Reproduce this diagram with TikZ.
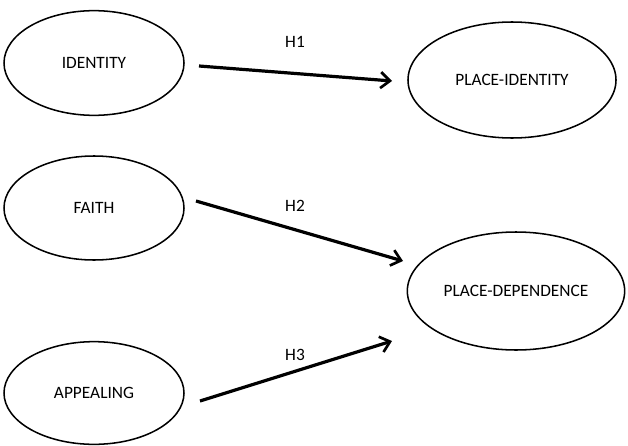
\documentclass[tikz,border=0pt]{standalone}
\usepackage{fontspec}
\setmainfont{Carlito}
\usetikzlibrary{shapes.geometric,arrows.meta}
\begin{document}
\begin{tikzpicture}[x=0.75pt,y=-0.75pt,
  construct/.style={draw=black,line width=1.15pt,ellipse,inner sep=0pt,font=\fontsize{13pt}{15pt}\selectfont},
  hyp/.style={line width=2.4pt,-{Straight Barb[length=7pt,width=12pt,line width=2pt]}},
  hlabel/.style={font=\fontsize{13pt}{15pt}\selectfont,inner sep=0pt}]
\useasboundingbox (0,0) rectangle (628,446);
\node[construct,minimum width=135pt,minimum height=78.5pt] (id) at (94,63) {IDENTITY};
\node[construct,minimum width=156pt,minimum height=87pt] (pid) at (512,80) {PLACE-IDENTITY};
\node[construct,minimum width=135pt,minimum height=78pt] (fa) at (94,208) {FAITH};
\node[construct,minimum width=163pt,minimum height=88.5pt] (pdep) at (516,291) {PLACE-DEPENDENCE};
\node[construct,minimum width=135pt,minimum height=77pt] (ap) at (94,393) {APPEALING};
\coordinate (a1) at (199,66); \coordinate (b1) at (392,81);
\coordinate (a2) at (196,201); \coordinate (b2) at (403,261);
\coordinate (a3) at (200,401); \coordinate (b3) at (392,341);
\draw[hyp] (a1) -- (b1);
\draw[hyp] (a2) -- (b2);
\draw[hyp] (a3) -- (b3);
\node[hlabel] (h1) at (295,42) {H1};
\node[hlabel] (h2) at (295,206) {H2};
\node[hlabel] (h3) at (295,355) {H3};
\end{tikzpicture}
\end{document}
